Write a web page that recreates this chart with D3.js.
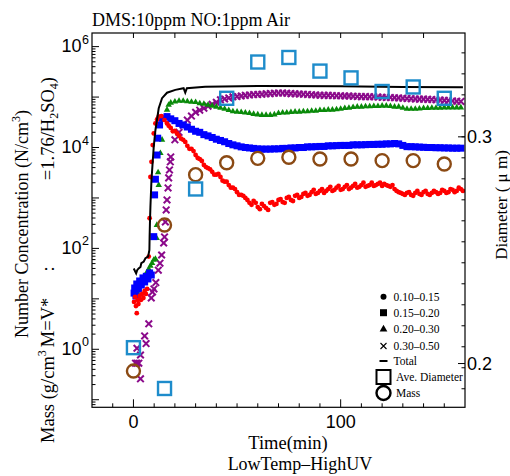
<!DOCTYPE html>
<html><head><meta charset="utf-8">
<script src="https://cdn.jsdelivr.net/npm/d3@7"></script>
<style>
html,body{margin:0;padding:0;background:#fff;}
svg{display:block;}
.serif{font-family:"Liberation Serif","Times New Roman",serif;}
.sans{font-family:"Liberation Sans",Arial,sans-serif;}
</style></head>
<body>
<svg id="chart" width="510" height="476"></svg>
<script>
// ---------------- DATA ----------------
const title = "DMS:10ppm NO:1ppm Air";
const xTitle = "Time(min)";
const subTitle = "LowTemp\u2013HighUV";
const legendLabels = ["0.10\u20130.15", "0.15\u20130.20", "0.20\u20130.30", "0.30\u20130.50", "Total", "Ave. Diameter", "Mass"];

const xTickLabels = [0, 100];
const leftTickExponents = [0, 2, 4, 6];
const rightTickLabels = [0.2, 0.3];

// time grids of the dense plateau part (min)
const plateauTime = [18,20,22,24,26,28,30,32,34,36,38,40,42,44,46,48,50,52,54,56,58,60,62,64,66,68,70,72,74,76,78,80,82,84,86,88,90,92,94,96,98,100,102,104,106,108,110,112,114,116,118,120,122,124,126,128,130,132,134,136,138,140,142,144,146,148,150,152,154,156,158];
const plateauTimeOdd = [17,19,21,23,25,27,29,31,33,35,37,39,41,43,45,47,49,51,53,55,57,59,61,63,65,67,69,71,73,75,77,79,81,83,85,87,89,91,93,95,97,99,101,103,105,107,109,111,113,115,117,119,121,123,125,127,129,131,133,135,137,139,141,143,145,147,149,151,153,155,157,159];

// 0.10-0.15 um (red circles)
const redEarlyTime = [0.3,0.8,1.2,1.6,2,2.4,3,3.6,4.2,4.8,5.4,6,6.6,7.4,7.8,8.2,8.7,9.3,9.8,10.6,11.4,12.2,13.5,15,16.2];
const redEarly     = [8.7,10.9,7.2,5.2,9.5,7.9,11.4,9.5,12.5,10.4,14.3,12.5,15.7,69,396,2600,5200,11200,19000,30000,36000,41000,42000,35000,30000];
const redPlateau = [24500,21300,17000,14200,10800,9400,7100,5900,4500,3900,3300,2900,2600,2100,1800,1600,1300,1150,1000,800,870,660,760,630,800,730,910,830,1000,910,1100,1000,1200,1100,1300,1200,1380,1260,1500,1380,1600,1450,1660,1500,1730,1600,1800,1660,1800,1730,1900,1730,1800,1660,1500,1300,1200,1260,1150,1260,1200,1300,1200,1260,1300,1260,1380,1300,1450,1380,1500];
const redPlateauOdd = [27000,21000,19000,15000,12900,9400,8500,6200,5400,4100,3700,2900,3000,2200,2100,1600,1500,1150,1100,910,730,800,600,690,580,830,760,950,800,1050,870,1150,1050,1260,1150,1450,1260,1500,1380,1660,1450,1730,1500,1800,1600,1900,1660,2000,1730,2000,1800,2000,1900,1730,1800,1380,1260,1150,1300,1100,1380,1150,1380,1150,1380,1200,1450,1260,1500,1300,1600,1380];

// 0.15-0.20 um (blue squares)
const blueEarlyTime = [0.3,0.6,1.2,1.6,2.4,3,3.8,4.6,5.4,6.2,7,7.8,8.6,9.8,10.2,10.6,11.4,11.7,12.6,13.8,16.2];
const blueEarly     = [13,16.4,11.4,19.7,15.7,22.6,18.8,26,21.6,28,24.8,32.6,29.7,171,1150,2350,7100,15300,28000,38000,41000];
const bluePlateau = [37000,34000,30000,28000,25500,23000,21000,20000,18000,17000,15800,14600,13800,13000,12000,11300,10800,10300,10000,9800,9600,9400,9300,9300,9300,9400,9400,9600,9600,9800,9800,10000,10000,10300,10300,10400,10500,10500,10800,10800,10900,11000,11000,11000,11300,11300,11300,11400,11500,11500,11600,11600,11800,11800,12000,11800,11000,10400,10400,10300,10200,10100,10000,10000,9900,9900,9800,9800,9700,9700,9700];

// 0.20-0.30 um (green triangles)
const greenEarlyTime = [1.8,2.6,3.4,4.2,5,5.8,6.6,7.4,8.2,9,9.8,10.6,11.2,11.3,11.9,12.2,13,13.8,14.6,15.4,16.2,17];
const greenEarly     = [13.7,15.7,18.8,21.6,26,29.7,34,39,45,51,59,62,160,290,3200,1800,7700,14200,35000,41000,56000,70000];
const greenPlateau = [77000,81000,84000,84000,82000,80000,79000,75000,73000,70000,67000,64000,61000,58000,55000,52000,51000,50000,49000,48000,46000,45000,44000,44000,44000,45000,48000,49000,49000,50000,51000,51000,52000,52000,53000,53000,55000,55000,56000,56000,57000,58000,60000,61000,63000,64000,64000,65000,65000,66000,66000,67000,67000,66000,64000,64000,61000,58000,58000,58000,59000,60000,60000,61000,61000,61000,62000,62000,62000,62000,62000];

// 0.30-0.50 um (purple crosses)
const purpleEarlyTime = [1,1.7,1.7,2.6,3.4,3.4,5.4,6.1,7.4,8.6,9.2,9.9,10.8,12,12.8,13.6,14.6,15,15.4,15.8,16.2,16.7,17,17.4,17.8];
const purpleEarly     = [0.53,1.05,0.53,0.53,0.77,0.26,1.84,1.3,3.2,10.4,13.7,15.7,21,37,51,74,128,169,334,578,914,1580,2500,3600,5200];
const purplePlateau = [6500,14200,20000,28000,35000,42000,50000,55000,60000,66000,72000,79000,88000,92000,96000,101000,103000,105000,108000,110000,112000,113000,114000,116000,117000,119000,120000,120000,119000,117000,116000,115000,114000,113000,111000,110000,109000,108000,108000,107000,106000,106000,105000,105000,104000,103000,102000,102000,101000,101000,100000,99000,98000,98000,97000,96000,95000,94000,93000,92000,91000,91000,90000,89000,88000,87000,86000,85000,84000,83000,82000];

// Total (black line)
const totalTime = [0.15,1.3,1.8,2.5,3.4,3.8,5,5.8,7.1,7.7,7.8,8.0,8.2,8.7,9.8,10.6,12.2,13.8,16.2,20.2,24.2,25,25.8,34.6,60,100,130,159];
const totalValue = [40,32,37,40,43,51,55,64,69,93,171,369,676,2300,10400,22000,60000,95000,122000,139000,150000,122000,150000,161000,166000,163000,159000,156000];

// Average diameter (um, right axis) and mass (left axis)
const sampleTime = [0,15,30,45,60,75,90,105,120,135,150];
const aveDiameter = [0.207,0.189,0.277,0.317,0.333,0.335,0.329,0.326,0.320,0.322,0.317];
const massValue = [0.37,290,2900,5000,6100,6400,5900,5900,5500,5500,4700];

// ---------------- CHART ----------------
const svg = d3.select("#chart");
const L = 92, R = 465, T = 33, B = 407.3;

const x = d3.scaleLinear().domain([-20, 160]).range([L, R]);
const y = d3.scaleLog().domain([Math.pow(10,-1.15), Math.pow(10,6.27)]).range([B, T]);
const yR = d3.scaleLinear().domain([0.1807, 0.3458]).range([B, T]);

const col = {red:"#ff0000", blue:"#0000ff", green:"#0a8a0a", purple:"#8b0a8b", diam:"#1e8ccb", mass:"#8b4a14"};

svg.append("defs").append("clipPath").attr("id","clip")
  .append("rect").attr("x",L).attr("y",T).attr("width",R-L).attr("height",B-T);
const plot = svg.append("g").attr("clip-path","url(#clip)");

function zip(t, v){ return t.map((d,i)=>[d, v[i]]); }
const redData = zip(redEarlyTime, redEarly).concat(zip(plateauTime, redPlateau), zip(plateauTimeOdd, redPlateauOdd));
const blueData = zip(blueEarlyTime, blueEarly).concat(zip(plateauTime, bluePlateau));
const greenData = zip(greenEarlyTime, greenEarly).concat(zip(plateauTime, greenPlateau));
const purpleData = zip(purpleEarlyTime, purpleEarly).concat(zip(plateauTime, purplePlateau));

// purple crosses
const xs = 3.3;
plot.append("g").selectAll("path").data(purpleData).join("path")
  .attr("d", d=>{const cx=x(d[0]), cy=y(d[1]);
    return `M${cx-xs},${cy-xs}L${cx+xs},${cy+xs}M${cx-xs},${cy+xs}L${cx+xs},${cy-xs}`;})
  .attr("stroke", col.purple).attr("stroke-width", 2).attr("fill","none");

// green triangles
const tri = d3.symbol().type(d3.symbolTriangle).size(18);
plot.append("g").selectAll("path").data(greenData).join("path")
  .attr("transform", d=>`translate(${x(d[0])},${y(d[1])})`).attr("d", tri).attr("fill", col.green);

// blue squares
const sq = 7;
plot.append("g").selectAll("rect").data(blueData).join("rect")
  .attr("x", d=>x(d[0])-sq/2).attr("y", d=>y(d[1])-sq/2).attr("width", sq).attr("height", sq)
  .attr("fill", col.blue);

// red circles
plot.append("g").selectAll("circle").data(redData).join("circle")
  .attr("cx", d=>x(d[0])).attr("cy", d=>y(d[1])).attr("r", 2.4).attr("fill", col.red);

// total line
plot.append("path").datum(zip(totalTime, totalValue))
  .attr("d", d3.line().x(d=>x(d[0])).y(d=>y(d[1])))
  .attr("fill","none").attr("stroke","#000").attr("stroke-width",2);

// mass circles
plot.append("g").selectAll("circle").data(zip(sampleTime, massValue)).join("circle")
  .attr("cx", d=>x(d[0])).attr("cy", d=>y(d[1])).attr("r", 6.5)
  .attr("fill","none").attr("stroke", col.mass).attr("stroke-width", 2.4);

// diameter squares
const ds = 13;
plot.append("g").selectAll("rect").data(zip(sampleTime, aveDiameter)).join("rect")
  .attr("x", d=>x(d[0])-ds/2).attr("y", d=>yR(d[1])-ds/2).attr("width", ds).attr("height", ds)
  .attr("fill","none").attr("stroke", col.diam).attr("stroke-width", 2.4);

// ---------------- AXES ----------------
const ax = svg.append("g").attr("stroke","#000").attr("stroke-width",1);
ax.append("rect").attr("x",L).attr("y",T).attr("width",R-L).attr("height",B-T).attr("fill","none").attr("stroke-width",1.2);

// bottom ticks every 10 min, top ticks every 20 min
d3.range(-10, 160, 10).forEach(t=>{
  const len = (t % 100 === 0) ? 8 : 4;
  ax.append("line").attr("x1",x(t)).attr("x2",x(t)).attr("y1",B).attr("y2",B-len);
});
d3.range(0, 160, 20).forEach(t=>{
  ax.append("line").attr("x1",x(t)).attr("x2",x(t)).attr("y1",T).attr("y2",T+5);
});
// left log ticks
for (let e=-2; e<=6; e++){
  for (let m=1; m<=9; m++){
    const v = m*Math.pow(10,e);
    if (v < y.domain()[0] || v > y.domain()[1]) continue;
    const len = m===1 ? 7 : 3.5;
    ax.append("line").attr("x1",L).attr("x2",L+len).attr("y1",y(v)).attr("y2",y(v));
  }
}
// right ticks
const rStep = 0.00926;
for (let k=-20; k<=20; k++){
  const v = 0.3 + k*rStep;
  if (v < yR.domain()[0] || v > yR.domain()[1]) continue;
  ax.append("line").attr("x1",R).attr("x2",R-3.5).attr("y1",yR(v)).attr("y2",yR(v));
}
rightTickLabels.forEach(v=>{
  ax.append("line").attr("x1",R).attr("x2",R-7).attr("y1",yR(v)).attr("y2",yR(v));
});

// tick labels
const lab = svg.append("g").attr("fill","#000");
xTickLabels.forEach(t=>{
  lab.append("text").attr("class","sans").attr("x",x(t)).attr("y",428).attr("text-anchor","middle")
    .attr("font-size",18).text(t);
});
leftTickExponents.forEach(e=>{
  const yy = y(Math.pow(10,e));
  lab.append("text").attr("class","sans").attr("font-size",18).attr("x",81.5).attr("y",yy+5.5).attr("text-anchor","end").text("10");
  lab.append("text").attr("class","sans").attr("font-size",12.5).attr("x",82).attr("y",yy-3).text(e);
});
rightTickLabels.forEach(v=>{
  lab.append("text").attr("class","sans").attr("font-size",18).attr("x",467).attr("y",yR(v)+6.5).text(v.toFixed(1));
});

// titles
lab.append("text").attr("class","serif").attr("font-size",18).attr("x",92).attr("y",26).text(title);
lab.append("text").attr("class","serif").attr("font-size",18.5).attr("x",288).attr("y",449).attr("text-anchor","middle").text(xTitle);
lab.append("text").attr("class","serif").attr("font-size",18).attr("x",300).attr("y",470).attr("text-anchor","middle").text(subTitle);

// left axis titles
const l1 = lab.append("text").attr("class","serif").attr("font-size",18)
  .attr("transform","translate(28,224) rotate(-90)").attr("text-anchor","middle");
l1.append("tspan").text("Number Concentration (N/cm");
l1.append("tspan").attr("font-size",12).attr("dy",-8).text("3");
l1.append("tspan").attr("dy",8).text(")");

const l2a = lab.append("text").attr("class","serif").attr("font-size",18.5)
  .attr("transform","translate(54,443) rotate(-90)").attr("text-anchor","start");
l2a.append("tspan").text("Mass (g/cm");
l2a.append("tspan").attr("font-size",12).attr("dy",-8).text("3");
l2a.append("tspan").attr("dy",8).attr("dx",3).text("M=V*");
lab.append("text").attr("class","serif").attr("font-size",18.5)
  .attr("transform","translate(54,269) rotate(-90)").attr("text-anchor","middle").text(":");
const l2c = lab.append("text").attr("class","serif").attr("font-size",18.5)
  .attr("transform","translate(54,77) rotate(-90)").attr("text-anchor","end");
l2c.append("tspan").text("=1.76/H");
l2c.append("tspan").attr("font-size",12).attr("dy",4).text("2");
l2c.append("tspan").attr("dy",-4).text("SO");
l2c.append("tspan").attr("font-size",12).attr("dy",4).text("4");
l2c.append("tspan").attr("dy",-4).text(")");

// right axis title
lab.append("text").attr("class","serif").attr("font-size",17)
  .attr("transform","translate(507,205) rotate(-90)").attr("text-anchor","middle").text("Diameter ( \u03bc m)");

// ---------------- LEGEND ----------------
const lg = svg.append("g");
const lx = 383.5, ly = [296.7, 312.7, 329.3, 346, 361, 377, 393];
lg.append("circle").attr("cx",lx).attr("cy",ly[0]).attr("r",3).attr("fill","#000");
lg.append("rect").attr("x",lx-3.5).attr("y",ly[1]-3.5).attr("width",7).attr("height",7).attr("fill","#000");
lg.append("path").attr("transform",`translate(${lx},${ly[2]})`).attr("d",d3.symbol().type(d3.symbolTriangle).size(26)).attr("fill","#000");
lg.append("path").attr("d",`M${lx-3},${ly[3]-3}L${lx+3},${ly[3]+3}M${lx-3},${ly[3]+3}L${lx+3},${ly[3]-3}`).attr("stroke","#000").attr("stroke-width",1.1);
lg.append("line").attr("x1",lx-4).attr("x2",lx+4).attr("y1",ly[4]).attr("y2",ly[4]).attr("stroke","#000").attr("stroke-width",2);
lg.append("rect").attr("x",lx-7).attr("y",ly[5]-7).attr("width",14).attr("height",14).attr("fill","none").attr("stroke","#000").attr("stroke-width",2);
lg.append("circle").attr("cx",lx).attr("cy",ly[6]).attr("r",7).attr("fill","none").attr("stroke","#000").attr("stroke-width",2.4);
legendLabels.forEach((s,i)=>{
  lg.append("text").attr("class","serif").attr("font-size",11.5)
    .attr("x", i>=5 ? 396 : 393.5).attr("y", ly[i]+4).text(s);
});
</script>
</body></html>
